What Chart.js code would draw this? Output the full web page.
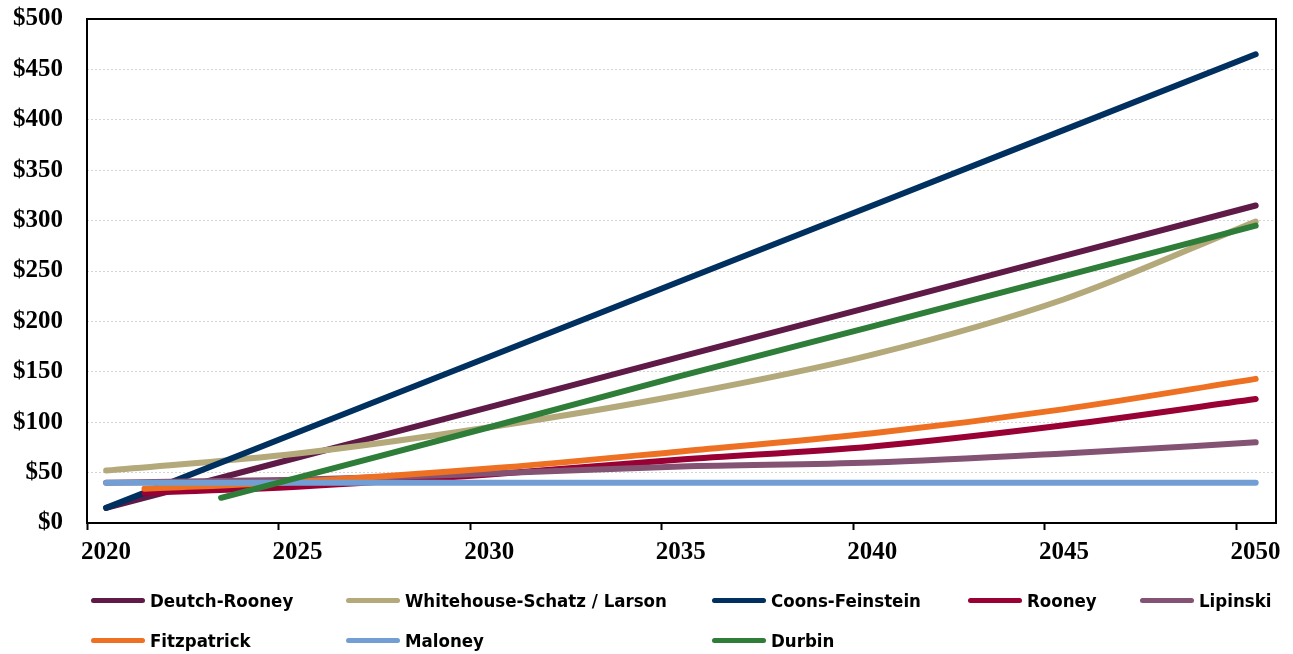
<!DOCTYPE html>
<html>
<head>
<meta charset="utf-8">
<script src="https://cdn.jsdelivr.net/npm/chart.js@4.4.1/dist/chart.umd.min.js"></script>
<style>
    body { margin: 0; background: #fff; }
    #wrap { position: relative; width: 1293px; height: 654px; }
    #legend .item {
        position: absolute;
        display: flex;
        align-items: center;
        height: 22px;
        font-family: "DejaVu Sans Condensed", "Liberation Sans Narrow", "DejaVu Sans", sans-serif;
        font-stretch: condensed;
        font-weight: bold;
        font-size: 18.5px;
        color: #000;
        white-space: nowrap;
    }
    #legend .swatch { width: 54px; height: 5px; border-radius: 3px; margin-right: 5px; }
</style>
</head>
<body>
<div id="wrap">
    <canvas id="cost-chart" width="1293" height="654"></canvas>
    <div id="legend"></div>
</div>
<script>
// series, in the order of the legend
const seriesNames = ["Deutch-Rooney", "Whitehouse-Schatz / Larson", "Coons-Feinstein", "Rooney",
                     "Lipinski", "Fitzpatrick", "Maloney", "Durbin"];
const seriesColors = ["#5f1a47", "#b3a97a", "#00305f", "#990033",
                      "#845273", "#ee7023", "#739ed3", "#2e7d38"];

// years of the points (mid-year)
const yearsFrom2020 = [2020.5, 2025.5, 2030.5, 2035.5, 2040.5, 2045.5, 2050.5];
const yearsFrom2021 = [2021.5, 2025.5, 2030.5, 2035.5, 2040.5, 2045.5, 2050.5];
const yearsFrom2023 = [2023.5, 2025.5, 2030.5, 2035.5, 2040.5, 2045.5, 2050.5];

const deutchRooney     = [15, 65, 115, 165, 215, 265, 315];
const whitehouseSchatz = [52, 69, 95, 127, 167, 222, 299];
const coonsFeinstein   = [15, 90, 165, 240, 315, 390, 465];
const rooney           = [30, 36, 48, 63, 76, 97, 123];
const lipinski         = [40, 43, 49, 56, 60, 69, 80];
const fitzpatrick      = [34, 41, 54, 71, 89, 113, 143];
const maloney          = [40, 40, 40, 40, 40, 40, 40];
const durbin           = [25, 45, 95, 146, 195, 245, 295];

const xTickYears = [2020, 2025, 2030, 2035, 2040, 2045, 2050];
const yTickValues = [0, 50, 100, 150, 200, 250, 300, 350, 400, 450, 500];

const seriesValues = [deutchRooney, whitehouseSchatz, coonsFeinstein, rooney,
                      lipinski, fitzpatrick, maloney, durbin];
const seriesYears = [yearsFrom2020, yearsFrom2020, yearsFrom2020, yearsFrom2021,
                     yearsFrom2020, yearsFrom2021, yearsFrom2020, yearsFrom2023];

const axisFont = { family: "'Liberation Serif', 'Times New Roman', serif", size: 25, weight: 'bold' };

const frame = {
    id: 'frame',
    afterDraw(chart) {
        const a = chart.chartArea, c = chart.ctx;
        c.save();
        c.strokeStyle = '#000';
        c.lineWidth = 2;
        c.strokeRect(a.left, a.top, a.right - a.left, a.bottom - a.top);
        c.restore();
    }
};

const datasets = seriesNames.map((name, i) => ({
    label: name,
    data: seriesValues[i].map((v, j) => ({ x: seriesYears[i][j], y: v })),
    borderColor: seriesColors[i],
    backgroundColor: seriesColors[i],
    borderWidth: 6,
    borderCapStyle: 'round',
    borderJoinStyle: 'round',
    pointRadius: 0,
    cubicInterpolationMode: 'monotone',
    fill: false,
    order: seriesNames.length - i   // later series on top, like the original
}));

const chart = new Chart(document.getElementById('cost-chart'), {
    type: 'line',
    data: { datasets: datasets },
    options: {
        responsive: false,
        animation: false,
        layout: { padding: { top: 19, right: 17, bottom: 81, left: 0 } },
        plugins: { legend: { display: false }, tooltip: { enabled: false } },
        scales: {
            x: {
                type: 'linear',
                min: 2020,
                max: 2051.03,
                afterBuildTicks: (s) => { s.ticks = xTickYears.map(v => ({ value: v })); },
                afterFit: (s) => { s.height = 50; s.paddingLeft = 0; s.paddingRight = 0; },
                grid: { drawOnChartArea: false, drawTicks: true, tickLength: 7, tickColor: '#000', tickWidth: 2, color: '#000' },
                border: { display: false },
                ticks: {
                    font: axisFont, color: '#000', padding: 8, labelOffset: 19, maxRotation: 0,
                    callback: (v) => String(v)
                }
            },
            y: {
                min: 0,
                max: 500,
                afterBuildTicks: (s) => { s.ticks = yTickValues.map(v => ({ value: v })); },
                afterFit: (s) => { s.width = 87; s.paddingTop = 0; s.paddingBottom = 0; },
                grid: { color: '#d4d4d4', lineWidth: 1, drawTicks: false },
                border: { display: false, dash: [2, 2] },
                ticks: { font: axisFont, color: '#000', padding: 24, callback: (v) => '$' + v }
            }
        }
    },
    plugins: [frame]
});

// legend laid out in columns like the original
const legendCols = [91, 346, 712, 968, 1140];
const legendRows = [589, 629];
const legend = document.getElementById('legend');
seriesNames.forEach((name, i) => {
    const el = document.createElement('div');
    el.className = 'item';
    el.style.left = legendCols[i % 5] + 'px';
    el.style.top = legendRows[Math.floor(i / 5)] + 'px';
    el.innerHTML = '<span class="swatch" style="background:' + seriesColors[i] + '"></span>' + name;
    legend.appendChild(el);
});
</script>
</body>
</html>
